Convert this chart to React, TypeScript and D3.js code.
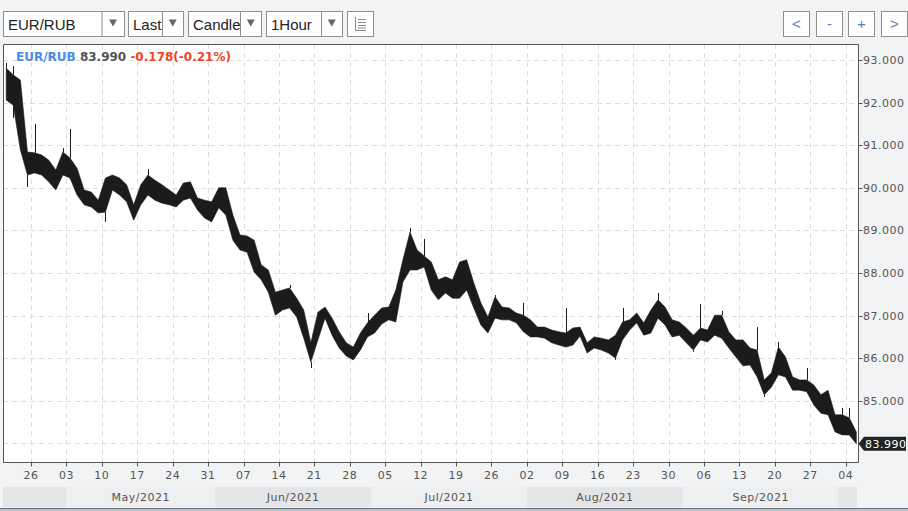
import React from "react";
import * as d3 from "d3";

// trading-day index: 0 = Mon 26 Apr 2021 (weekends skipped)
const dayIndex = d3.range(-4, 117);
const highs = [
  92.81, 92.65, 92.53, 90.84, 90.82, 90.77, 90.65, 90.42, 90.84, 90.7,
  90.46, 89.95, 89.9, 89.71, 90.23, 90.3, 90.23, 90.07, 89.6, 90.07,
  90.3, 90.18, 90.07, 89.95, 89.83, 90.11, 90.14, 89.76, 89.71, 89.67,
  90.0, 90.0, 89.36, 88.89, 88.87, 88.77, 88.19, 88.07, 87.55, 87.6,
  87.65, 87.41, 87.13, 86.36, 87.08, 87.2, 86.94, 86.62, 86.36, 86.26,
  86.59, 86.83, 87.01, 87.18, 87.2, 87.6, 88.31, 88.96, 88.54, 88.4,
  88.26, 87.84, 87.91, 87.84, 88.26, 88.31, 87.77, 87.3, 86.97, 87.44,
  87.2, 87.18, 87.06, 87.01, 86.9, 86.73, 86.73, 86.66, 86.62, 86.59,
  86.71, 86.73, 86.36, 86.5, 86.47, 86.43, 86.54, 86.85, 86.9, 87.06,
  86.83, 87.13, 87.37, 87.2, 86.9, 86.85, 86.71, 86.54, 86.71, 86.66,
  87.01, 87.01, 86.62, 86.43, 86.43, 86.24, 86.19, 85.49, 85.65, 86.26,
  86.03, 85.56, 85.49, 85.49, 85.37, 85.14, 85.25, 84.67, 84.67, 84.6,
  84.27,
];
const lows = [
  92.06, 91.94, 90.89, 90.3, 90.35, 90.3, 90.14, 89.95, 90.3, 90.23,
  89.83, 89.6, 89.55, 89.41, 89.43, 89.95, 89.83, 89.67, 89.24, 89.6,
  89.83, 89.71, 89.64, 89.6, 89.55, 89.71, 89.76, 89.48, 89.29, 89.2,
  89.53, 89.36, 88.77, 88.54, 88.49, 88.02, 87.84, 87.55, 87.01, 87.13,
  87.18, 86.97, 86.47, 85.91, 86.43, 86.94, 86.54, 86.24, 86.05, 85.96,
  86.19, 86.5, 86.59, 86.8, 86.9, 86.85, 87.79, 88.07, 88.07, 88.14,
  87.6, 87.37, 87.53, 87.41, 87.41, 87.6, 87.18, 86.78, 86.59, 86.94,
  86.9, 86.9, 86.83, 86.62, 86.5, 86.5, 86.47, 86.36, 86.31, 86.26,
  86.31, 86.52, 86.12, 86.24, 86.19, 86.12, 86.0, 86.43, 86.66, 86.83,
  86.54, 86.59, 86.94, 86.78, 86.5, 86.54, 86.36, 86.19, 86.43, 86.38,
  86.54, 86.47, 86.24, 86.03, 85.82, 85.84, 85.56, 85.14, 85.32, 85.61,
  85.56, 85.25, 85.25, 85.21, 84.9, 84.71, 84.67, 84.27, 84.2, 84.2,
  83.99,
];
const spikeDays = [-4, -3, -3, -1, 0, 4, 5, 10, 16, 36, 39, 47, 53, 55, 65, 69, 75, 82, 83, 88, 93, 94, 97, 102, 103, 105, 109, 114, 115];
const spikeValues = [92.93, 92.86, 91.64, 90.02, 91.5, 90.93, 91.38, 89.2, 90.44, 87.72, 85.77, 87.06, 89.06, 88.8, 87.48, 87.3, 87.18, 85.96, 87.18, 87.53, 86.15, 87.27, 87.11, 86.73, 85.09, 86.38, 85.77, 84.83, 84.83];

const weekTickDays = d3.range(0, 116, 5);
const weekTickLabels = ["26", "03", "10", "17", "24", "31", "07", "14", "21", "28", "05", "12", "19", "26", "02", "09", "16", "23", "30", "06", "13", "20", "27", "04"];
const monthLabels = ["", "May/2021", "Jun/2021", "Jul/2021", "Aug/2021", "Sep/2021", ""];
const monthStartDays = [-3.95, 5, 26, 48, 70, 92, 114];
const priceTicks = [84, 85, 86, 87, 88, 89, 90, 91, 92, 93];
const symbol = "EUR/RUB";
const lastPrice = 83.99;
const change = -0.178;
const changePct = -0.21;
const dropdowns = [
  { label: "EUR/RUB", x0: 3, div: 102, x1: 124 },
  { label: "Last", x0: 128, div: 162.5, x1: 183 },
  { label: "Candle", x0: 188, div: 240.5, x1: 261 },
  { label: "1Hour", x0: 266, div: 321.5, x1: 342 },
];
const navButtons = [
  { label: "<", x0: 783 },
  { label: "-", x0: 816 },
  { label: "+", x0: 848 },
  { label: ">", x0: 881 },
];

const W = 908;
const H = 511;
const plotL = 3;
const plotR = 858.5;
const plotT = 44;
const plotB = 462.5;

export default function App() {
  const x = d3.scaleLinear().domain([0, 115]).range([31, 845.7]);
  const y = d3.scaleLinear().domain([84, 93]).range([443.4, 60]);
  const data = dayIndex.map((d, i) => ({ d, hi: highs[i], lo: lows[i] }));
  const area = d3
    .area<{ d: number; hi: number; lo: number }>()
    .x((p) => x(p.d + 0.5))
    .y0((p) => y(p.lo))
    .y1((p) => y(p.hi))
    .curve(d3.curveLinear);
  const axisFont = "DejaVu Sans, sans-serif";
  const txtCol = "#555";

  return (
    <svg
      width={W}
      height={H}
      style={{ position: "absolute", left: 0, top: 0, display: "block" }}
      xmlns="http://www.w3.org/2000/svg"
    >
      <rect x={0} y={0} width={W} height={H} fill="#f2f3f4" />
      {/* toolbar */}
      {dropdowns.map((b) => (
        <g key={b.label}>
          <rect x={b.x0 + 0.5} y={11.5} width={b.x1 - b.x0} height={25} fill="#fff" stroke="#8e8e8e" />
          <line x1={b.div} x2={b.div} y1={11.5} y2={36.5} stroke="#8e8e8e" />
          <text x={b.x0 + 5} y={30} fontFamily="Liberation Sans, Arial, sans-serif" fontSize={15} fill="#222">
            {b.label}
          </text>
          <polygon
            points={`${(b.div + b.x1) / 2 - 4},19.5 ${(b.div + b.x1) / 2 + 4},19.5 ${(b.div + b.x1) / 2},26.5`}
            fill="#666"
          />
        </g>
      ))}
      <rect x={347.5} y={11.5} width={26} height={25} fill="#fff" stroke="#8e8e8e" />
      <g stroke="#8a8a8a" strokeWidth={1}>
        <line x1={355.5} x2={355.5} y1={17} y2={30} />
        <line x1={355} x2={366} y1={30.5} y2={30.5} />
        {[19.5, 22.5, 25.5, 28].map((yy) => (
          <line key={yy} x1={358} x2={366} y1={yy} y2={yy} />
        ))}
      </g>
      {navButtons.map((b) => (
        <g key={b.label}>
          <rect x={b.x0 + 0.5} y={11.5} width={26} height={25} fill="#fff" stroke="#8e8e8e" />
          <text
            x={b.x0 + 13.5}
            y={29}
            textAnchor="middle"
            fontFamily="Liberation Sans, Arial, sans-serif"
            fontSize={15}
            fill="#5b7fb8"
          >
            {b.label}
          </text>
        </g>
      ))}

      {/* plot area */}
      <rect x={plotL} y={plotT} width={plotR - plotL} height={plotB - plotT} fill="#fff" />
      <g stroke="#dedede" strokeWidth={1} strokeDasharray="5,4">
        {priceTicks.map((p) => (
          <line key={p} x1={plotL} x2={plotR} y1={Math.round(y(p)) + 0.5} y2={Math.round(y(p)) + 0.5} />
        ))}
        {weekTickDays.map((d) => (
          <line key={d} x1={Math.round(x(d)) + 0.5} x2={Math.round(x(d)) + 0.5} y1={plotT} y2={plotB} />
        ))}
      </g>

      {/* price band */}
      <path d={area(data) ?? ""} fill="#1b1b1b" stroke="#1b1b1b" strokeWidth={0.6} strokeLinejoin="round" />
      <g stroke="#1b1b1b" strokeWidth={1}>
        {spikeDays.map((d, i) => {
          const idx = dayIndex.indexOf(d);
          const v = spikeValues[i];
          const base = v > highs[idx] ? highs[idx] : lows[idx];
          const xx = Math.round(x(d + 0.5)) + 0.5;
          return <line key={i} x1={xx} x2={xx} y1={y(v)} y2={y(base)} />;
        })}
      </g>

      {/* frame */}
      <path
        d={`M${plotL + 0.5},${plotB} L${plotL + 0.5},${plotT + 0.5} L${plotR},${plotT + 0.5} L${plotR},${plotB} L${plotL + 0.5},${plotB}`}
        fill="none"
        stroke="#555"
        strokeWidth={1}
      />

      {/* legend */}
      <text x={16} y={61} fontFamily="DejaVu Sans, sans-serif" fontWeight="bold" fontSize={12}>
        <tspan fill="#4a8de6">{symbol}</tspan>
        <tspan fill="#555"> {lastPrice.toFixed(3)}</tspan>
        <tspan fill="#f4431f">
          {" "}
          {change.toFixed(3)}({changePct.toFixed(2)}%)
        </tspan>
      </text>

      {/* y axis (84.000 is hidden behind the last-price marker) */}
      {priceTicks.map((p) => (
        <g key={p}>
          <line x1={plotR} x2={plotR + 4} y1={Math.round(y(p)) + 0.5} y2={Math.round(y(p)) + 0.5} stroke="#555" />
          {Math.abs(y(p) - y(lastPrice)) > 12 && (
            <text x={863} y={y(p) + 4} fontFamily={axisFont} fontSize={11} letterSpacing={0.5} fill={txtCol}>
              {p.toFixed(3)}
            </text>
          )}
        </g>
      ))}
      <polygon
        points={`${plotR},${y(lastPrice)} ${plotR + 5.5},${y(lastPrice) - 7} ${906},${y(lastPrice) - 7} ${906},${y(lastPrice) + 7} ${plotR + 5.5},${y(lastPrice) + 7}`}
        fill="#222"
      />
      <text x={865} y={y(lastPrice) + 4} fontFamily={axisFont} fontSize={11} letterSpacing={0.5} fill="#fff">
        {lastPrice.toFixed(3)}
      </text>

      {/* x axis */}
      {weekTickDays.map((d, i) => (
        <g key={d}>
          <line x1={Math.round(x(d)) + 0.5} x2={Math.round(x(d)) + 0.5} y1={plotB} y2={plotB + 4} stroke="#555" />
          <text
            x={x(d)}
            y={479}
            textAnchor="middle"
            fontFamily={axisFont}
            fontSize={11}
            letterSpacing={0.5}
            fill={txtCol}
          >
            {weekTickLabels[i]}
          </text>
        </g>
      ))}
      {monthStartDays.map((s, i) => {
        const x0 = i === 0 ? plotL : x(s);
        const x1 = i + 1 < monthStartDays.length ? x(monthStartDays[i + 1]) : 857;
        return (
          <g key={i}>
            <rect x={x0} y={487} width={x1 - x0} height={20} fill={i % 2 === 0 ? "#e4e5e6" : "#eeeff0"} />
            {monthLabels[i] && (
              <text
                x={(x0 + x1) / 2}
                y={501}
                textAnchor="middle"
                fontFamily={axisFont}
                fontSize={11}
                letterSpacing={0.5}
                fill={txtCol}
              >
                {monthLabels[i]}
              </text>
            )}
          </g>
        );
      })}
      <line x1={0} x2={W} y1={508.5} y2={508.5} stroke="#6b6f74" />
      <rect x={0} y={509} width={W} height={2} fill="#b9c4cf" />
    </svg>
  );
}
